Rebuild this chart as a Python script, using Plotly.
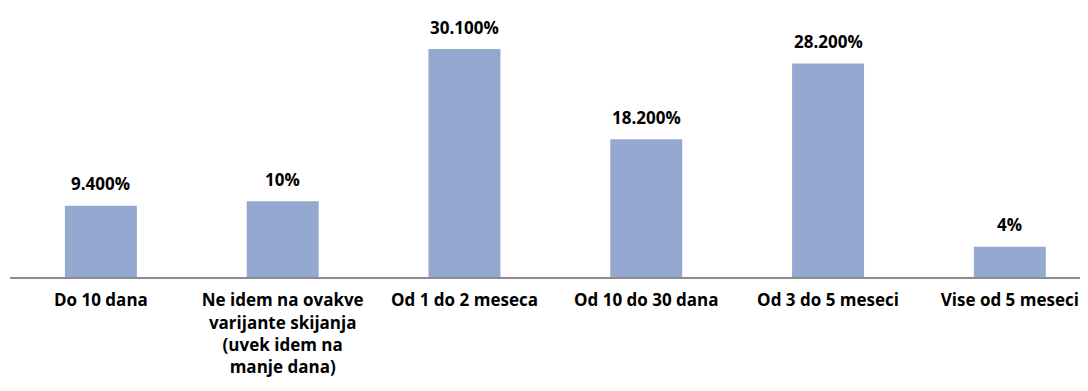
import plotly.graph_objects as go

categories = ["Do 10 dana",
              "Ne idem na ovakve<br>varijante skijanja<br>(uvek idem na<br>manje dana)",
              "Od 1 do 2 meseca",
              "Od 10 do 30 dana",
              "Od 3 do 5 meseci",
              "Vise od 5 meseci"]
values = [9.4, 10, 30.1, 18.2, 28.2, 4]
value_labels = ["9.400%", "10%", "30.100%", "18.200%", "28.200%", "4%"]

FONT = "Open Sans"
SIZE = 17
fig = go.Figure(go.Bar(x=categories, y=values, marker=dict(color="#95A9D0", line=dict(width=0)),
                       width=0.396, hoverinfo="skip"))

for c, v, t in zip(categories, values, value_labels):
    fig.add_annotation(x=c, y=v, text="<b>%s</b>" % t, showarrow=False, yshift=22,
                       font=dict(family=FONT, size=SIZE, color="#000000"))

fig.update_layout(
    width=1088, height=391,
    margin=dict(l=2, r=8, t=4, b=122),
    plot_bgcolor="white", paper_bgcolor="white",
    showlegend=False,
    font=dict(family=FONT, size=SIZE, color="#000000"),
    xaxis=dict(showgrid=False, showline=True, linecolor="#8C8C8C", linewidth=2,
               ticks="", tickfont=dict(family=FONT, size=SIZE, color="#000000"),
               ticklabelstandoff=7, tickprefix="<b>", ticksuffix="</b>",
               automargin=False, range=[-0.5, 5.43]),
    yaxis=dict(range=[0, 35], visible=False, showgrid=False, zeroline=False, automargin=False),
)
fig.write_html("out.html")
